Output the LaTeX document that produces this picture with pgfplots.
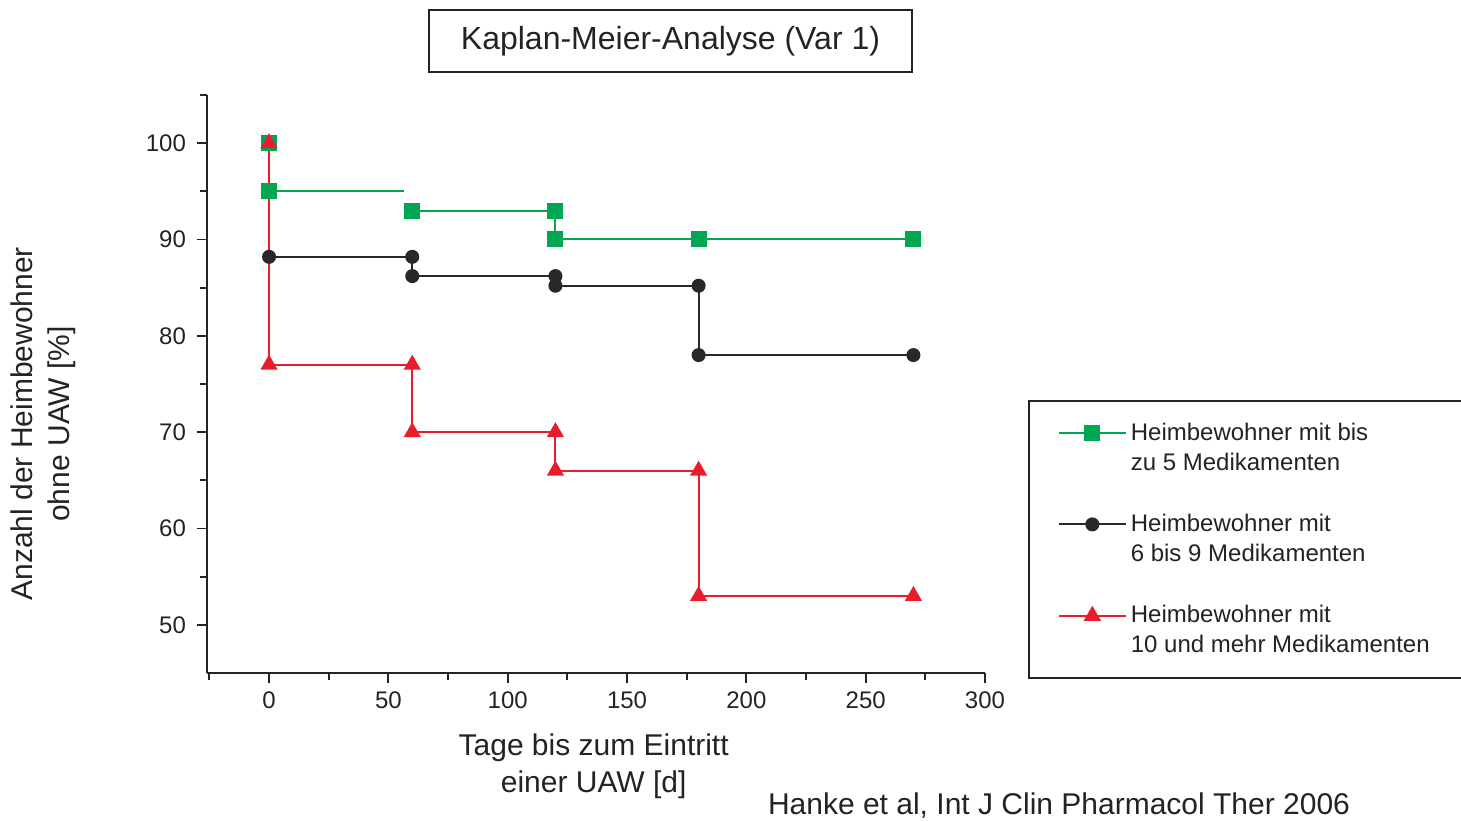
\documentclass[border=0pt]{standalone}
\usepackage{fontspec}
\setmainfont{Liberation Sans}
\usepackage{pgfplots}
\pgfplotsset{compat=1.18}
\definecolor{kmgreen}{RGB}{0,166,81}
\definecolor{kmblack}{RGB}{40,40,42}
\definecolor{kmred}{RGB}{232,28,44}
\definecolor{txt}{RGB}{35,35,35}
\begin{document}
\begin{tikzpicture}
\path[use as bounding box] (0,0) rectangle (730.5pt,411pt);
\begin{axis}[
  at={(103.5pt,74.5pt)}, anchor=south west,
  scale only axis, width=389pt, height=289pt,
  xmin=-26, xmax=300, ymin=45, ymax=105,
  axis x line*=bottom, axis y line*=left,
  axis line style={line width=0.9pt, draw=txt, -},
  xtick={0,50,...,300}, ytick={50,60,...,100},
  minor xtick={-25,25,75,125,175,225,275},
  minor ytick={55,65,75,85,95,105},
  tick align=outside,
  major tick length=5pt, minor tick length=3.5pt,
  every tick/.style={line width=0.9pt, draw=txt},
  tick label style={font=\fontsize{12}{14}\selectfont, text=txt},
  /pgf/number format/assume math mode=true,
  xticklabel style={yshift=-1pt}, yticklabel style={xshift=-2pt},
  xlabel={Tage bis zum Eintritt\\einer UAW [d]},
  ylabel={Anzahl der Heimbewohner\\ohne UAW [\%]},
  xlabel style={font=\fontsize{15}{18.5}\selectfont, align=center, at={(axis description cs:0.497,-0.161)}, anchor=center, text=txt},
  ylabel style={font=\fontsize{15}{18.5}\selectfont, align=center, at={(axis description cs:-0.211,0.431)}, anchor=center, text=txt},
  legend style={at={(1.0553,0.4723)}, anchor=north west, draw=txt, line width=0.8pt,
    font=\fontsize{12}{15}\selectfont, text=txt, fill=white,
    cells={anchor=west, align=left}, row sep=16.5pt, inner xsep=14.5pt, inner ysep=9pt},
  legend cell align=left,
  legend image code/.code={%
    \path[draw=none, fill=none] (0pt,-12pt) rectangle (0pt,12pt);
    \draw[mark repeat=2,mark phase=2] plot coordinates {(0pt,7.5pt)(16.75pt,7.5pt)(33.5pt,7.5pt)};},
]
% green: up to 5 drugs
\addplot[kmgreen, line width=1pt, mark=square*, mark size=3.5pt, mark indices={1,2}, forget plot]
  coordinates {(0,100)(0,95)(56.5,95)};
\addplot[kmgreen, line width=1pt, mark=square*, mark size=3.5pt]
  coordinates {(60,93)(120,93)(120,90)(180,90)(270,90)};
\addlegendentry{Heimbewohner mit bis\\zu 5 Medikamenten}
% black: 6 to 9 drugs
\addplot[kmblack, line width=1pt, forget plot]
  coordinates {(0,100)(0,88.2)};
\addplot[kmblack, line width=1pt, mark=*, mark size=3pt]
  coordinates {(0,88.2)(60,88.2)(60,86.2)(120,86.2)(120,85.2)(180,85.2)(180,78)(270,78)};
\addlegendentry{Heimbewohner mit\\6 bis 9 Medikamenten}
% red: 10 and more drugs
\addplot[kmred, line width=1pt, mark=triangle*, mark size=4pt]
  coordinates {(0,100)(0,77)(60,77)(60,70)(120,70)(120,66)(180,66)(180,53)(270,53)};
\addlegendentry{Heimbewohner mit\\10 und mehr Medikamenten}
\end{axis}
\node[draw=txt, line width=0.8pt, minimum width=241.5pt, minimum height=31pt,
  font=\fontsize{16}{19}\selectfont, text=txt] at (335.25pt,390.5pt) {Kaplan-Meier-Analyse (Var 1)};
\node[font=\fontsize{15}{18}\selectfont, text=txt] at (529.5pt,8pt) {Hanke et al, Int J Clin Pharmacol Ther 2006};
\end{tikzpicture}
\end{document}
